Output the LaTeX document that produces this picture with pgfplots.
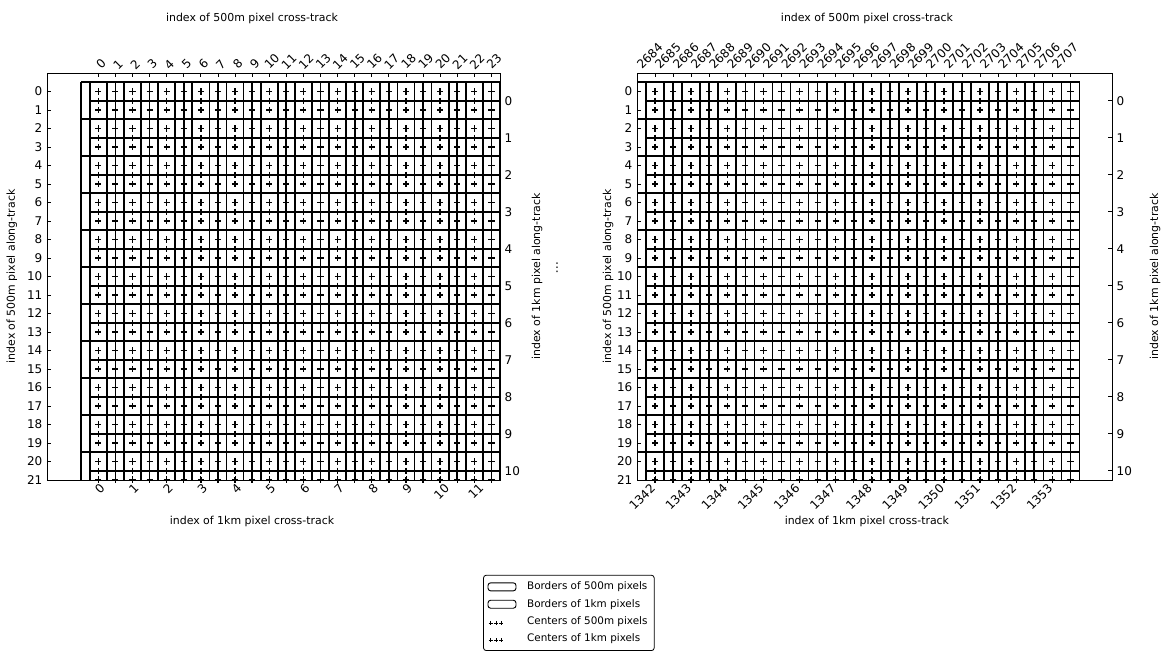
\documentclass[border=0pt]{standalone}
\usepackage{pgfplots}
\pgfplotsset{compat=1.18}
\usepackage{pgfplotstable}
\usepackage{graphicx}
\usepackage{fontspec}
\setmainfont{DejaVu Sans}
\newcommand{\rb}[1]{\rotatebox{45}{#1}}
\newcommand{\tickfont}{\fontsize{9}{10.5}\selectfont}
\newcommand{\labfont}{\fontsize{8.2}{10}\selectfont}

% 500m pixel borders (segments separated by nan)
\pgfplotstableread[row sep=\\]{
x y\\
-0.5 -0.5\\23.5 -0.5\\nan nan\\
-0.5 0.5\\23.5 0.5\\nan nan\\
-0.5 1.5\\23.5 1.5\\nan nan\\
-0.5 2.5\\23.5 2.5\\nan nan\\
-0.5 3.5\\23.5 3.5\\nan nan\\
-0.5 4.5\\23.5 4.5\\nan nan\\
-0.5 5.5\\23.5 5.5\\nan nan\\
-0.5 6.5\\23.5 6.5\\nan nan\\
-0.5 7.5\\23.5 7.5\\nan nan\\
-0.5 8.5\\23.5 8.5\\nan nan\\
-0.5 9.5\\23.5 9.5\\nan nan\\
-0.5 10.5\\23.5 10.5\\nan nan\\
-0.5 11.5\\23.5 11.5\\nan nan\\
-0.5 12.5\\23.5 12.5\\nan nan\\
-0.5 13.5\\23.5 13.5\\nan nan\\
-0.5 14.5\\23.5 14.5\\nan nan\\
-0.5 15.5\\23.5 15.5\\nan nan\\
-0.5 16.5\\23.5 16.5\\nan nan\\
-0.5 17.5\\23.5 17.5\\nan nan\\
-0.5 18.5\\23.5 18.5\\nan nan\\
-0.5 19.5\\23.5 19.5\\nan nan\\
-0.5 20.5\\23.5 20.5\\nan nan\\
-0.5 21.5\\23.5 21.5\\nan nan\\
-0.5 -0.5\\-0.5 21.5\\nan nan\\
0.5 -0.5\\0.5 21.5\\nan nan\\
1.5 -0.5\\1.5 21.5\\nan nan\\
2.5 -0.5\\2.5 21.5\\nan nan\\
3.5 -0.5\\3.5 21.5\\nan nan\\
4.5 -0.5\\4.5 21.5\\nan nan\\
5.5 -0.5\\5.5 21.5\\nan nan\\
6.5 -0.5\\6.5 21.5\\nan nan\\
7.5 -0.5\\7.5 21.5\\nan nan\\
8.5 -0.5\\8.5 21.5\\nan nan\\
9.5 -0.5\\9.5 21.5\\nan nan\\
10.5 -0.5\\10.5 21.5\\nan nan\\
11.5 -0.5\\11.5 21.5\\nan nan\\
12.5 -0.5\\12.5 21.5\\nan nan\\
13.5 -0.5\\13.5 21.5\\nan nan\\
14.5 -0.5\\14.5 21.5\\nan nan\\
15.5 -0.5\\15.5 21.5\\nan nan\\
16.5 -0.5\\16.5 21.5\\nan nan\\
17.5 -0.5\\17.5 21.5\\nan nan\\
18.5 -0.5\\18.5 21.5\\nan nan\\
19.5 -0.5\\19.5 21.5\\nan nan\\
20.5 -0.5\\20.5 21.5\\nan nan\\
21.5 -0.5\\21.5 21.5\\nan nan\\
22.5 -0.5\\22.5 21.5\\nan nan\\
23.5 -0.5\\23.5 21.5\\nan nan\\
}\bordersfive

% 1km pixel borders
\pgfplotstableread[row sep=\\]{
x y\\
-1 -0.5\\23 -0.5\\nan nan\\
-1 1.5\\23 1.5\\nan nan\\
-1 3.5\\23 3.5\\nan nan\\
-1 5.5\\23 5.5\\nan nan\\
-1 7.5\\23 7.5\\nan nan\\
-1 9.5\\23 9.5\\nan nan\\
-1 11.5\\23 11.5\\nan nan\\
-1 13.5\\23 13.5\\nan nan\\
-1 15.5\\23 15.5\\nan nan\\
-1 17.5\\23 17.5\\nan nan\\
-1 19.5\\23 19.5\\nan nan\\
-1 21.5\\23 21.5\\nan nan\\
-1 -0.5\\-1 21.5\\nan nan\\
1 -0.5\\1 21.5\\nan nan\\
3 -0.5\\3 21.5\\nan nan\\
5 -0.5\\5 21.5\\nan nan\\
7 -0.5\\7 21.5\\nan nan\\
9 -0.5\\9 21.5\\nan nan\\
11 -0.5\\11 21.5\\nan nan\\
13 -0.5\\13 21.5\\nan nan\\
15 -0.5\\15 21.5\\nan nan\\
17 -0.5\\17 21.5\\nan nan\\
19 -0.5\\19 21.5\\nan nan\\
21 -0.5\\21 21.5\\nan nan\\
23 -0.5\\23 21.5\\nan nan\\
}\bordersone

% centres of 500m pixels
\pgfplotstableread[row sep=\\]{
x y\\
0 0\\1 0\\2 0\\3 0\\4 0\\5 0\\6 0\\7 0\\8 0\\9 0\\10 0\\11 0\\12 0\\13 0\\14 0\\15 0\\16 0\\17 0\\18 0\\19 0\\20 0\\21 0\\22 0\\23 0\\
0 1\\1 1\\2 1\\3 1\\4 1\\5 1\\6 1\\7 1\\8 1\\9 1\\10 1\\11 1\\12 1\\13 1\\14 1\\15 1\\16 1\\17 1\\18 1\\19 1\\20 1\\21 1\\22 1\\23 1\\
0 2\\1 2\\2 2\\3 2\\4 2\\5 2\\6 2\\7 2\\8 2\\9 2\\10 2\\11 2\\12 2\\13 2\\14 2\\15 2\\16 2\\17 2\\18 2\\19 2\\20 2\\21 2\\22 2\\23 2\\
0 3\\1 3\\2 3\\3 3\\4 3\\5 3\\6 3\\7 3\\8 3\\9 3\\10 3\\11 3\\12 3\\13 3\\14 3\\15 3\\16 3\\17 3\\18 3\\19 3\\20 3\\21 3\\22 3\\23 3\\
0 4\\1 4\\2 4\\3 4\\4 4\\5 4\\6 4\\7 4\\8 4\\9 4\\10 4\\11 4\\12 4\\13 4\\14 4\\15 4\\16 4\\17 4\\18 4\\19 4\\20 4\\21 4\\22 4\\23 4\\
0 5\\1 5\\2 5\\3 5\\4 5\\5 5\\6 5\\7 5\\8 5\\9 5\\10 5\\11 5\\12 5\\13 5\\14 5\\15 5\\16 5\\17 5\\18 5\\19 5\\20 5\\21 5\\22 5\\23 5\\
0 6\\1 6\\2 6\\3 6\\4 6\\5 6\\6 6\\7 6\\8 6\\9 6\\10 6\\11 6\\12 6\\13 6\\14 6\\15 6\\16 6\\17 6\\18 6\\19 6\\20 6\\21 6\\22 6\\23 6\\
0 7\\1 7\\2 7\\3 7\\4 7\\5 7\\6 7\\7 7\\8 7\\9 7\\10 7\\11 7\\12 7\\13 7\\14 7\\15 7\\16 7\\17 7\\18 7\\19 7\\20 7\\21 7\\22 7\\23 7\\
0 8\\1 8\\2 8\\3 8\\4 8\\5 8\\6 8\\7 8\\8 8\\9 8\\10 8\\11 8\\12 8\\13 8\\14 8\\15 8\\16 8\\17 8\\18 8\\19 8\\20 8\\21 8\\22 8\\23 8\\
0 9\\1 9\\2 9\\3 9\\4 9\\5 9\\6 9\\7 9\\8 9\\9 9\\10 9\\11 9\\12 9\\13 9\\14 9\\15 9\\16 9\\17 9\\18 9\\19 9\\20 9\\21 9\\22 9\\23 9\\
0 10\\1 10\\2 10\\3 10\\4 10\\5 10\\6 10\\7 10\\8 10\\9 10\\10 10\\11 10\\12 10\\13 10\\14 10\\15 10\\16 10\\17 10\\18 10\\19 10\\20 10\\21 10\\22 10\\23 10\\
0 11\\1 11\\2 11\\3 11\\4 11\\5 11\\6 11\\7 11\\8 11\\9 11\\10 11\\11 11\\12 11\\13 11\\14 11\\15 11\\16 11\\17 11\\18 11\\19 11\\20 11\\21 11\\22 11\\23 11\\
0 12\\1 12\\2 12\\3 12\\4 12\\5 12\\6 12\\7 12\\8 12\\9 12\\10 12\\11 12\\12 12\\13 12\\14 12\\15 12\\16 12\\17 12\\18 12\\19 12\\20 12\\21 12\\22 12\\23 12\\
0 13\\1 13\\2 13\\3 13\\4 13\\5 13\\6 13\\7 13\\8 13\\9 13\\10 13\\11 13\\12 13\\13 13\\14 13\\15 13\\16 13\\17 13\\18 13\\19 13\\20 13\\21 13\\22 13\\23 13\\
0 14\\1 14\\2 14\\3 14\\4 14\\5 14\\6 14\\7 14\\8 14\\9 14\\10 14\\11 14\\12 14\\13 14\\14 14\\15 14\\16 14\\17 14\\18 14\\19 14\\20 14\\21 14\\22 14\\23 14\\
0 15\\1 15\\2 15\\3 15\\4 15\\5 15\\6 15\\7 15\\8 15\\9 15\\10 15\\11 15\\12 15\\13 15\\14 15\\15 15\\16 15\\17 15\\18 15\\19 15\\20 15\\21 15\\22 15\\23 15\\
0 16\\1 16\\2 16\\3 16\\4 16\\5 16\\6 16\\7 16\\8 16\\9 16\\10 16\\11 16\\12 16\\13 16\\14 16\\15 16\\16 16\\17 16\\18 16\\19 16\\20 16\\21 16\\22 16\\23 16\\
0 17\\1 17\\2 17\\3 17\\4 17\\5 17\\6 17\\7 17\\8 17\\9 17\\10 17\\11 17\\12 17\\13 17\\14 17\\15 17\\16 17\\17 17\\18 17\\19 17\\20 17\\21 17\\22 17\\23 17\\
0 18\\1 18\\2 18\\3 18\\4 18\\5 18\\6 18\\7 18\\8 18\\9 18\\10 18\\11 18\\12 18\\13 18\\14 18\\15 18\\16 18\\17 18\\18 18\\19 18\\20 18\\21 18\\22 18\\23 18\\
0 19\\1 19\\2 19\\3 19\\4 19\\5 19\\6 19\\7 19\\8 19\\9 19\\10 19\\11 19\\12 19\\13 19\\14 19\\15 19\\16 19\\17 19\\18 19\\19 19\\20 19\\21 19\\22 19\\23 19\\
0 20\\1 20\\2 20\\3 20\\4 20\\5 20\\6 20\\7 20\\8 20\\9 20\\10 20\\11 20\\12 20\\13 20\\14 20\\15 20\\16 20\\17 20\\18 20\\19 20\\20 20\\21 20\\22 20\\23 20\\
0 21\\1 21\\2 21\\3 21\\4 21\\5 21\\6 21\\7 21\\8 21\\9 21\\10 21\\11 21\\12 21\\13 21\\14 21\\15 21\\16 21\\17 21\\18 21\\19 21\\20 21\\21 21\\22 21\\23 21\\
}\centersfive

% centres of 1km pixels
\pgfplotstableread[row sep=\\]{
x y\\
0 0.5\\2 0.5\\4 0.5\\6 0.5\\8 0.5\\10 0.5\\12 0.5\\14 0.5\\16 0.5\\18 0.5\\20 0.5\\22 0.5\\
0 2.5\\2 2.5\\4 2.5\\6 2.5\\8 2.5\\10 2.5\\12 2.5\\14 2.5\\16 2.5\\18 2.5\\20 2.5\\22 2.5\\
0 4.5\\2 4.5\\4 4.5\\6 4.5\\8 4.5\\10 4.5\\12 4.5\\14 4.5\\16 4.5\\18 4.5\\20 4.5\\22 4.5\\
0 6.5\\2 6.5\\4 6.5\\6 6.5\\8 6.5\\10 6.5\\12 6.5\\14 6.5\\16 6.5\\18 6.5\\20 6.5\\22 6.5\\
0 8.5\\2 8.5\\4 8.5\\6 8.5\\8 8.5\\10 8.5\\12 8.5\\14 8.5\\16 8.5\\18 8.5\\20 8.5\\22 8.5\\
0 10.5\\2 10.5\\4 10.5\\6 10.5\\8 10.5\\10 10.5\\12 10.5\\14 10.5\\16 10.5\\18 10.5\\20 10.5\\22 10.5\\
0 12.5\\2 12.5\\4 12.5\\6 12.5\\8 12.5\\10 12.5\\12 12.5\\14 12.5\\16 12.5\\18 12.5\\20 12.5\\22 12.5\\
0 14.5\\2 14.5\\4 14.5\\6 14.5\\8 14.5\\10 14.5\\12 14.5\\14 14.5\\16 14.5\\18 14.5\\20 14.5\\22 14.5\\
0 16.5\\2 16.5\\4 16.5\\6 16.5\\8 16.5\\10 16.5\\12 16.5\\14 16.5\\16 16.5\\18 16.5\\20 16.5\\22 16.5\\
0 18.5\\2 18.5\\4 18.5\\6 18.5\\8 18.5\\10 18.5\\12 18.5\\14 18.5\\16 18.5\\18 18.5\\20 18.5\\22 18.5\\
0 20.5\\2 20.5\\4 20.5\\6 20.5\\8 20.5\\10 20.5\\12 20.5\\14 20.5\\16 20.5\\18 20.5\\20 20.5\\22 20.5\\
}\centersone

\pgfplotsset{
  panel/.style={
    scale only axis, height=305.25pt,
    ymin=-1, ymax=21, y dir=reverse,
    axis line style={black, line width=0.7pt},
    tick align=inside, major tick length=3pt,
    every tick/.style={black, line width=0.6pt},
    tick label style={font=\tickfont},
    label style={font=\labfont},
    /pgf/number format/assume math mode=true,
    unbounded coords=jump,
  },
  mainpanel/.style={
    panel,
    xtick pos=left, ytick pos=left,
    ytick={0,1,2,3,4,5,6,7,8,9,10,11,12,13,14,15,16,17,18,19,20,21},
    xtick={0,2,4,6,8,10,12,14,16,18,20,22},
    xlabel={index of 1km pixel cross-track},
    ylabel={index of 500m pixel along-track},
  },
  overpanel/.style={
    panel,
    xtick pos=right, ytick pos=right,
    xticklabel pos=upper, yticklabel pos=right,
    xtick={0,1,2,3,4,5,6,7,8,9,10,11,12,13,14,15,16,17,18,19,20,21,22,23},
    ytick={0.5,2.5,4.5,6.5,8.5,10.5,12.5,14.5,16.5,18.5,20.5},
    yticklabels={0,1,2,3,4,5,6,7,8,9,10},
    xticklabel style={anchor=south, inner sep=2pt},
    xlabel={index of 500m pixel cross-track},
    ylabel={index of 1km pixel along-track},
  },
  b5/.style={black, line width=1.3pt},
  b1/.style={black, line width=1.3pt},
  c5/.style={only marks, mark=+, mark size=2.3pt, mark options={black, line width=1.05pt}},
}

\begin{document}
\begin{tikzpicture}
% ---------------- left panel ----------------
\begin{axis}[mainpanel, at={(35.25pt,135pt)}, anchor=south west, width=339.75pt,
  xmin=-3, xmax=23.5,
  xticklabel style={anchor=north, inner sep=2pt, xshift=1pt},
  xticklabels={\rb{0},\rb{1},\rb{2},\rb{3},\rb{4},\rb{5},\rb{6},\rb{7},\rb{8},\rb{9},\rb{10},\rb{11}},
  xlabel style={at={(axis description cs:0.4525,-0.1007)}, anchor=center},
  ylabel style={at={(axis description cs:-0.0773,0.5)}, anchor=center},
  legend style={at={(axis description cs:1.152,-0.233)}, anchor=north,
    draw=black, line width=0.6pt, rounded corners=2pt, fill=white,
    font=\fontsize{7.8}{9.2}\selectfont, cells={anchor=west},
    row sep=1.6pt, column sep=6pt, inner xsep=3pt, inner ysep=3pt},
]
\addplot[b5, legend image code/.code={\draw[black, line width=0.7pt, fill=white] (0pt,-3pt) rectangle (21pt,3pt);}] table {\bordersfive};
\addlegendentry{Borders of 500m pixels}
\addplot[b1, legend image code/.code={\draw[black, line width=0.7pt, fill=white] (0pt,-3pt) rectangle (21pt,3pt);}] table {\bordersone};
\addlegendentry{Borders of 1km pixels}
\addplot[c5, legend image code/.code={\path plot[only marks, mark=+, mark size=1.6pt, mark options={black, line width=0.6pt}] coordinates {(2pt,-1pt) (6pt,-1pt) (10pt,-1pt)};}] table {\centersfive};
\addlegendentry{Centers of 500m pixels}
\addplot[c5, legend image code/.code={\path plot[only marks, mark=+, mark size=1.6pt, mark options={black, line width=0.6pt}] coordinates {(2pt,-1pt) (6pt,-1pt) (10pt,-1pt)};}] table {\centersone};
\addlegendentry{Centers of 1km pixels}
\end{axis}
\begin{axis}[overpanel, at={(35.25pt,135pt)}, anchor=south west, width=339.75pt,
  xmin=-3, xmax=23.5,
  xticklabel style={xshift=2pt},
  xticklabels={\rb{0},\rb{1},\rb{2},\rb{3},\rb{4},\rb{5},\rb{6},\rb{7},\rb{8},\rb{9},\rb{10},\rb{11},\rb{12},\rb{13},\rb{14},\rb{15},\rb{16},\rb{17},\rb{18},\rb{19},\rb{20},\rb{21},\rb{22},\rb{23}},
  xlabel style={at={(axis description cs:0.4525,1.135)}, anchor=center},
  ylabel style={at={(axis description cs:1.0817,0.5)}, anchor=center},
]
\end{axis}
% ---------------- right panel ----------------
\begin{axis}[mainpanel, at={(477.75pt,135pt)}, anchor=south west, width=356.25pt,
  xmin=-1, xmax=25.3,
  xticklabel style={anchor=north east, inner sep=2pt, xshift=3pt},
  xticklabels={\rb{1342},\rb{1343},\rb{1344},\rb{1345},\rb{1346},\rb{1347},\rb{1348},\rb{1349},\rb{1350},\rb{1351},\rb{1352},\rb{1353}},
  xlabel style={at={(axis description cs:0.484,-0.1007)}, anchor=center},
  ylabel style={at={(axis description cs:-0.061,0.5)}, anchor=center},
]
\addplot[b5] table {\bordersfive};
\addplot[b1] table {\bordersone};
\addplot[c5] table {\centersfive};
\addplot[c5] table {\centersone};
\end{axis}
\begin{axis}[overpanel, at={(477.75pt,135pt)}, anchor=south west, width=356.25pt,
  xmin=-1, xmax=25.3,
  xticklabel style={xshift=-4pt},
  xticklabels={\rb{2684},\rb{2685},\rb{2686},\rb{2687},\rb{2688},\rb{2689},\rb{2690},\rb{2691},\rb{2692},\rb{2693},\rb{2694},\rb{2695},\rb{2696},\rb{2697},\rb{2698},\rb{2699},\rb{2700},\rb{2701},\rb{2702},\rb{2703},\rb{2704},\rb{2705},\rb{2706},\rb{2707}},
  xlabel style={at={(axis description cs:0.484,1.135)}, anchor=center},
  ylabel style={at={(axis description cs:1.0905,0.5)}, anchor=center},
]
\end{axis}
\node[font=\fontsize{9}{11}\selectfont] at (417.75pt,294pt) {⋮};
\pgfresetboundingbox
\path[use as bounding box] (0pt,0pt) rectangle (871.5pt,495pt);
\end{tikzpicture}
\end{document}
